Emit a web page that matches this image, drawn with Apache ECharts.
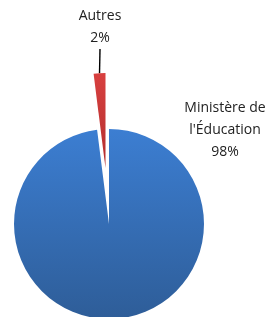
<!DOCTYPE html>
<html>
<head>
<meta charset="utf-8">
<script src="https://cdn.jsdelivr.net/npm/echarts@6/dist/echarts.min.js"></script>
<style>
  html, body { margin: 0; padding: 0; background: #fff; }
  #chart { width: 268px; height: 317px; }
</style>
</head>
<body>
<div id="chart"></div>
<script>
// data
const names = ['Ministère de\nl\'Éducation', 'Autres']
const values = [98, 2]
const colorsTop = ['#3c7ed2', '#d8403f']
const colorsBottom = ['#2e5d98', '#b32e2e']

// the exploded slice is drawn in its own series, moved up along its bisector
const explodedIndex = 1
const pieCenter = [109, 224]
const explodeOffset = 56

const myChart = echarts.init(document.getElementById('chart'))

function fill (i) {
  return new echarts.graphic.LinearGradient(0, 0, 0, 1, [
    { offset: 0, color: colorsTop[i] },
    { offset: 1, color: colorsBottom[i] }
  ])
}

// angle of the exploded slice's bisector (clockwise from 12 o'clock)
const total = values.reduce(function (a, b) { return a + b }, 0)
const before = values.slice(0, explodedIndex).reduce(function (a, b) { return a + b }, 0)
const midAngle = (90 - (before + values[explodedIndex] / 2) / total * 360) * Math.PI / 180
const explodedCenter = [
  pieCenter[0] + explodeOffset * Math.cos(midAngle),
  pieCenter[1] - explodeOffset * Math.sin(midAngle)
]

const baseLabel = {
  show: true,
  formatter: '{b}\n{d}%',
  fontFamily: 'Open Sans',
  fontSize: 14,
  lineHeight: 22,
  color: '#222',
  align: 'center'
}

function makeData (showIndex) {
  return names.map(function (n, i) {
    const on = i === showIndex || (showIndex === -1 && i !== explodedIndex)
    return {
      name: n,
      value: values[i],
      itemStyle: { color: on ? fill(i) : 'rgba(0,0,0,0)' },
      label: { show: on },
      labelLine: { show: on && i === explodedIndex }
    }
  })
}

const common = {
  type: 'pie',
  radius: [0, 95],
  startAngle: 90,
  clockwise: true,
  percentPrecision: 0,
  silent: true,
  emphasis: { disabled: true },
  label: baseLabel,
  labelLine: {
    length: 1,
    length2: 0,
    lineStyle: { color: '#000', width: 1.4 }
  }
}

myChart.setOption({
  animation: false,
  series: [
    Object.assign({}, common, {
      center: pieCenter,
      labelLayout: function () {
        return { x: 225, y: 130, align: 'center', verticalAlign: 'middle' }
      },
      data: makeData(-1)
    }),
    Object.assign({}, common, {
      center: explodedCenter,
      labelLayout: function () {
        return { x: 100, y: 27, align: 'center', verticalAlign: 'middle' }
      },
      data: makeData(explodedIndex)
    })
  ]
})
</script>
</body>
</html>
